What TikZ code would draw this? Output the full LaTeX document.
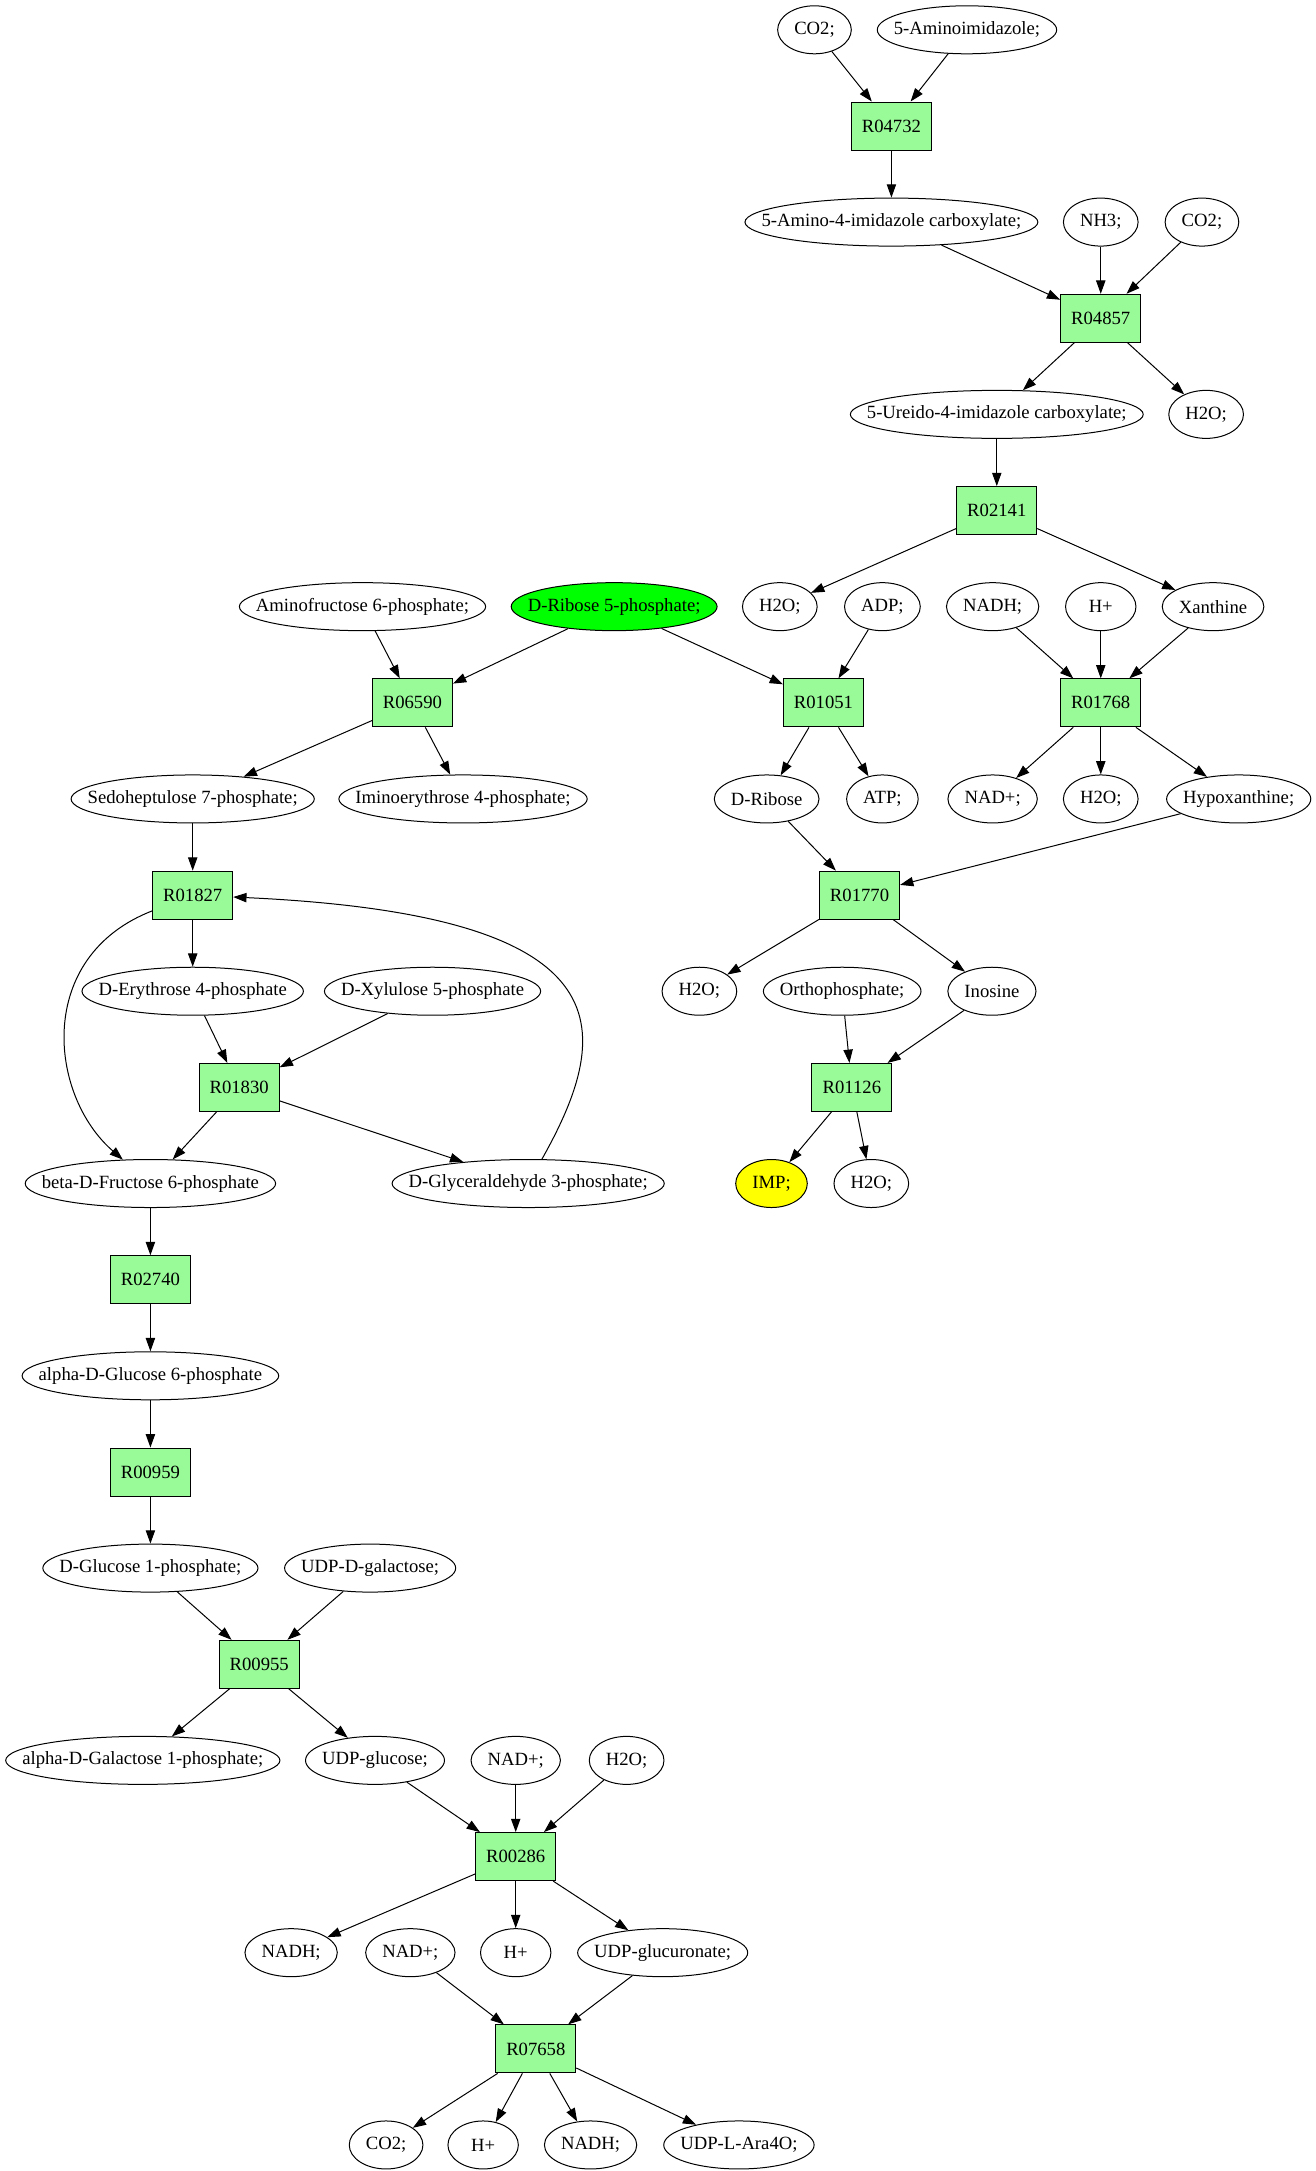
\documentclass[tikz,border=0pt]{standalone}
\usepackage{fontspec}
\setmainfont{Liberation Serif}
\usetikzlibrary{shapes.geometric,arrows.meta}
\definecolor{rxngreen}{HTML}{98FB98}
\definecolor{srcgreen}{HTML}{00FF00}
\definecolor{endyellow}{HTML}{FFFF00}

\begin{document}
\fontsize{14bp}{17bp}\selectfont
\begin{tikzpicture}[x=1.0397bp,y=1.0397bp,->,>={Triangle[length=10bp,width=7bp]},line width=0.75bp,
  met/.style={draw,ellipse,inner sep=0pt,minimum height=36bp,minimum width={max(53,width("#1")+25)},label={center:#1}},
  rxn/.style={draw,fill=rxngreen,inner sep=0pt,minimum width=60bp,minimum height=36bp}]
\useasboundingbox (0,0) rectangle (948.6,-1566);

% purine branch
\node[met={CO2;}] (co2a) at (587.5,-21.5) {};
\node[met={5-Aminoimidazole;}] (aimid) at (697.5,-21.5) {};
\node[rxn] (r04732) at (643,-90.9) {R04732};
\node[met={5-Amino-4-imidazole carboxylate;}] (aica) at (643,-160.2) {};
\node[met={NH3;}] (nh3) at (794,-160.2) {};
\node[met={CO2;}] (co2b) at (867,-160.2) {};
\node[rxn] (r04857) at (794,-229.6) {R04857};
\node[met={5-Ureido-4-imidazole carboxylate;}] (uaic) at (719,-298.9) {};
\node[met={H2O;}] (h2oa) at (870,-298.9) {};
\node[rxn] (r02141) at (719,-368.3) {R02141};

\node[met={Aminofructose 6-phosphate;}] (amf6p) at (261.5,-437.6) {};
\node[met={D-Ribose 5-phosphate;},fill=srcgreen] (r5p) at (443,-437.6) {};
\node[met={H2O;}] (h2ob) at (562.5,-437.6) {};
\node[met={ADP;}] (adp) at (636.5,-437.6) {};
\node[met={NADH;}] (nadha) at (716,-437.6) {};
\node[met={H+}] (hpa) at (794,-437.6) {};
\node[met={Xanthine}] (xan) at (875,-437.6) {};

\node[rxn] (r06590) at (297.5,-507) {R06590};
\node[rxn] (r01051) at (594,-507) {R01051};
\node[rxn] (r01768) at (794,-507) {R01768};

\node[met={Sedoheptulose 7-phosphate;}] (s7p) at (139,-576.3) {};
\node[met={Iminoerythrose 4-phosphate;}] (ie4p) at (334,-576.3) {};
\node[met={D-Ribose}] (drib) at (553,-576.3) {};
\node[met={ATP;}] (atp) at (636.5,-576.3) {};
\node[met={NAD+;}] (nada) at (716,-576.3) {};
\node[met={H2O;}] (h2oc) at (794,-576.3) {};
\node[met={Hypoxanthine;}] (hyp) at (893.5,-576.3) {};

\node[rxn] (r01827) at (139,-645.7) {R01827};
\node[rxn] (r01770) at (620,-645.7) {R01770};

\node[met={D-Erythrose 4-phosphate}] (e4p) at (139,-715) {};
\node[met={D-Xylulose 5-phosphate}] (xu5p) at (312,-715) {};
\node[met={H2O;}] (h2od) at (504.5,-715) {};
\node[met={Orthophosphate;}] (pi) at (607.5,-715) {};
\node[met={Inosine}] (ino) at (715.5,-715) {};

\node[rxn] (r01830) at (172.5,-784.4) {R01830};
\node[rxn] (r01126) at (614.5,-784.4) {R01126};

\node[met={beta-D-Fructose 6-phosphate}] (bf6p) at (108.5,-853.7) {};
\node[met={D-Glyceraldehyde 3-phosphate;}] (ga3p) at (381,-853.7) {};
\node[met={IMP;},fill=endyellow] (imp) at (556.5,-853.7) {};
\node[met={H2O;}] (h2oe) at (628.5,-853.7) {};

% sugar chain
\node[rxn] (r02740) at (108.5,-923.1) {R02740};
\node[met={alpha-D-Glucose 6-phosphate}] (g6p) at (108.5,-992.4) {};
\node[rxn] (r00959) at (108.5,-1061.8) {R00959};
\node[met={D-Glucose 1-phosphate;}] (g1p) at (108.5,-1131.1) {};
\node[met={UDP-D-galactose;}] (udpgal) at (267,-1131.1) {};
\node[rxn] (r00955) at (187,-1200.5) {R00955};
\node[met={alpha-D-Galactose 1-phosphate;}] (gal1p) at (103,-1269.8) {};
\node[met={UDP-glucose;}] (udpglc) at (270.5,-1269.8) {};
\node[met={NAD+;}] (nadb) at (372,-1269.8) {};
\node[met={H2O;}] (h2of) at (452,-1269.8) {};
\node[rxn] (r00286) at (372,-1339.2) {R00286};
\node[met={NADH;}] (nadhb) at (210,-1408.5) {};
\node[met={NAD+;}] (nadc) at (296,-1408.5) {};
\node[met={H+}] (hpb) at (372,-1408.5) {};
\node[met={UDP-glucuronate;}] (udpgla) at (478,-1408.5) {};
\node[rxn] (r07658) at (386.5,-1477.9) {R07658};
\node[met={CO2;}] (co2c) at (278.5,-1547.2) {};
\node[met={H+}] (hpc) at (348.5,-1547.2) {};
\node[met={NADH;}] (nadhc) at (426,-1547.2) {};
\node[met={UDP-L-Ara4O;}] (ara) at (533,-1547.2) {};

\path (co2a) edge (r04732) (aimid) edge (r04732)
(r04732) edge (aica)
(aica) edge (r04857) (nh3) edge (r04857) (co2b) edge (r04857)
(r04857) edge (uaic) edge (h2oa)
(uaic) edge (r02141)
(r02141) edge (h2ob) edge (xan);

\path (amf6p) edge (r06590) (r5p) edge (r06590) edge (r01051)
(adp) edge (r01051)
(nadha) edge (r01768) (hpa) edge (r01768) (xan) edge (r01768)
(r06590) edge (s7p) edge (ie4p)
(r01051) edge (drib) edge (atp)
(r01768) edge (nada) edge (h2oc) edge (hyp)
(s7p) edge (r01827) (drib) edge (r01770) (hyp) edge (r01770)
(r01827) edge (e4p)
(r01770) edge (h2od) edge (ino)
(e4p) edge (r01830) (xu5p) edge (r01830)
(pi) edge (r01126) (ino) edge (r01126)
(r01830) edge (bf6p) edge (ga3p)
(r01126) edge (imp) edge (h2oe);

% the two bent ones
\draw (r01827) .. controls (25,-690) and (35,-790) .. (bf6p);
\draw (ga3p) .. controls (445,-740) and (450,-660) .. (r01827);

\path (bf6p) edge (r02740) (r02740) edge (g6p)
(g6p) edge (r00959) (r00959) edge (g1p)
(g1p) edge (r00955) (udpgal) edge (r00955)
(r00955) edge (gal1p) edge (udpglc)
(udpglc) edge (r00286) (nadb) edge (r00286) (h2of) edge (r00286)
(r00286) edge (nadhb) edge (hpb) edge (udpgla)
(nadc) edge (r07658) (udpgla) edge (r07658)
(r07658) edge (co2c) edge (hpc) edge (nadhc) edge (ara);
\end{tikzpicture}
\end{document}
